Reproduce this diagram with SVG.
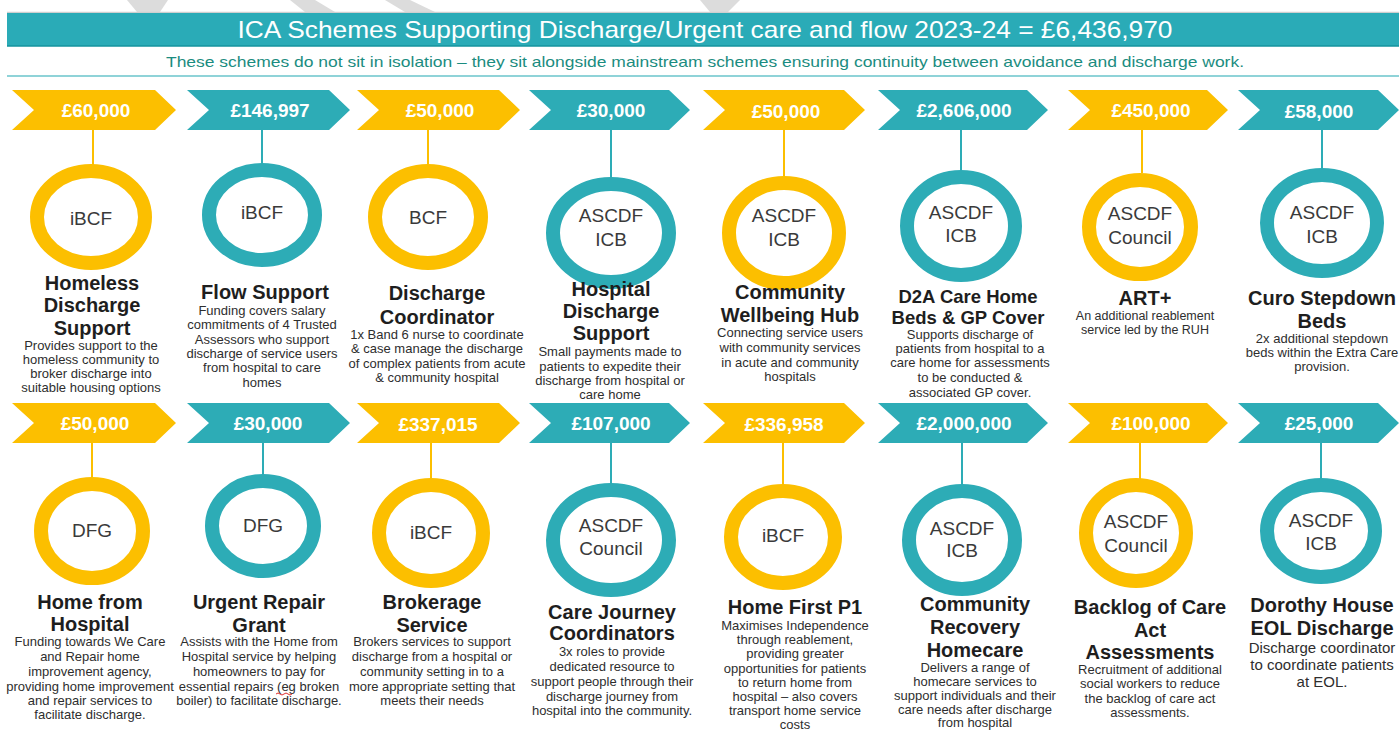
<svg xmlns="http://www.w3.org/2000/svg" width="1399" height="731" viewBox="0 0 1399 731">
<style>
.y{fill:#FCBF00}
.t{fill:#2DACB6}
.ry{fill:none;stroke:#FCBF00;stroke-width:14}
.rt{fill:none;stroke:#2DACB6;stroke-width:14}
.amt{font-family:"Liberation Sans",Arial,sans-serif;font-weight:bold;font-size:19px;fill:#fff;text-anchor:middle}
.src{font-family:"Liberation Sans",Arial,sans-serif;font-size:19px;fill:#3a3a3a;text-anchor:middle}
.ttl{font-family:"Liberation Sans",Arial,sans-serif;font-weight:bold;font-size:20px;fill:#1e1e1e;text-anchor:middle}
.dsc{font-family:"Liberation Sans",Arial,sans-serif;font-size:13px;fill:#2e2e2e;text-anchor:middle}
.cy{stroke:#FCBF00;stroke-width:2}
.ct{stroke:#2DACB6;stroke-width:2}
</style>
<rect width="1399" height="731" fill="#fff"/>
<g id="deco" fill="#dcdcdc">
<polygon points="127,0 168,0 160,12 137,12"/>
<polygon points="290,0 315,0 335,12 305,12"/>
<polygon points="385,0 410,0 435,12 405,12"/>
<polygon points="700,0 740,0 728,12 710,12"/>
</g>
<g id="header">
<line x1="7" y1="12.5" x2="1399" y2="12.5" stroke="#cfcfcf" stroke-width="1.5"/>
<rect x="7" y="13" width="1392" height="33" fill="#2AABB7"/>
<line x1="7" y1="46" x2="1399" y2="46" stroke="#15939e" stroke-width="1.5"/>
<text x="705" y="38" font-family="'Liberation Sans',Arial,sans-serif" font-size="24" fill="#fff" text-anchor="middle" textLength="935" lengthAdjust="spacingAndGlyphs">ICA Schemes Supporting Discharge/Urgent care and flow 2023-24 = £6,436,970</text>
<text x="705" y="67" font-family="'Liberation Sans',Arial,sans-serif" font-size="15" fill="#1b8c80" text-anchor="middle" textLength="1078" lengthAdjust="spacingAndGlyphs">These schemes do not sit in isolation – they sit alongside mainstream schemes ensuring continuity between avoidance and discharge work.</text>
<line x1="7" y1="76" x2="1399" y2="76" stroke="#8fd3d8" stroke-width="2"/>
</g>
<g id="connectors">
<line class="cy" x1="93" y1="130" x2="93" y2="165"/>
<line class="ct" x1="262" y1="130" x2="262" y2="164"/>
<line class="cy" x1="428" y1="130" x2="428" y2="165"/>
<line class="ct" x1="611" y1="130" x2="611" y2="177"/>
<line class="cy" x1="784" y1="130" x2="784" y2="177"/>
<line class="ct" x1="961" y1="130" x2="961" y2="171"/>
<line class="cy" x1="1142" y1="130" x2="1142" y2="173"/>
<line class="ct" x1="1322" y1="130" x2="1322" y2="169"/>
<line class="cy" x1="92" y1="443" x2="92" y2="478"/>
<line class="ct" x1="263" y1="443" x2="263" y2="475"/>
<line class="cy" x1="431" y1="443" x2="431" y2="479"/>
<line class="ct" x1="611" y1="443" x2="611" y2="484"/>
<line class="cy" x1="783" y1="443" x2="783" y2="485"/>
<line class="ct" x1="962" y1="443" x2="962" y2="485"/>
<line class="cy" x1="1140" y1="443" x2="1140" y2="479"/>
<line class="ct" x1="1321" y1="443" x2="1321" y2="479"/>
</g>
<g id="n1">
<polygon class="y" points="12,90 155,90 176,110 155,130 12,130 34,110"/>
<text class="amt" x="96" y="117">£60,000</text>
<ellipse class="ry" cx="91" cy="217" rx="54" ry="46"/>
<text class="src" x="91" y="225">iBCF</text>
<text class="ttl"><tspan x="92" y="290">Homeless</tspan><tspan x="92" y="312">Discharge</tspan><tspan x="92" y="335">Support</tspan></text>
<text class="dsc"><tspan x="91" y="350">Provides support to the</tspan><tspan x="91" y="364">homeless community to</tspan><tspan x="91" y="378">broker discharge into</tspan><tspan x="91" y="392">suitable housing options</tspan></text>
</g>
<g id="n2">
<polygon class="t" points="187,90 329,90 350,110 329,130 187,130 209,110"/>
<text class="amt" x="270" y="117">£146,997</text>
<ellipse class="rt" cx="262" cy="215" rx="53" ry="45"/>
<text class="src" x="262" y="219">iBCF</text>
<text class="ttl"><tspan x="265" y="299">Flow Support</tspan></text>
<text class="dsc"><tspan x="262" y="315">Funding covers salary</tspan><tspan x="262" y="329">commitments of 4 Trusted</tspan><tspan x="262" y="344">Assessors who support</tspan><tspan x="262" y="358">discharge of service users</tspan><tspan x="262" y="372">from hospital to care</tspan><tspan x="262" y="387">homes</tspan></text>
</g>
<g id="n3">
<polygon class="y" points="357,90 499,90 520,110 499,130 357,130 379,110"/>
<text class="amt" x="440" y="117">£50,000</text>
<ellipse class="ry" cx="428" cy="217" rx="53" ry="46"/>
<text class="src" x="428" y="224">BCF</text>
<text class="ttl"><tspan x="437" y="300">Discharge</tspan><tspan x="437" y="324">Coordinator</tspan></text>
<text class="dsc"><tspan x="437" y="339">1x Band 6 nurse to coordinate</tspan><tspan x="437" y="353">&amp; case manage the discharge</tspan><tspan x="437" y="368">of complex patients from acute</tspan><tspan x="437" y="382">&amp; community hospital</tspan></text>
</g>
<g id="n4">
<polygon class="t" points="529,90 669,90 690,110 669,130 529,130 551,110"/>
<text class="amt" x="611" y="117">£30,000</text>
<ellipse class="rt" cx="611" cy="233" rx="58" ry="49"/>
<text class="src"><tspan x="611" y="222">ASCDF</tspan><tspan x="611" y="246">ICB</tspan></text>
<text class="ttl"><tspan x="611" y="296">Hospital</tspan><tspan x="611" y="318">Discharge</tspan><tspan x="611" y="340">Support</tspan></text>
<text class="dsc"><tspan x="610" y="356">Small payments made to</tspan><tspan x="610" y="371">patients to expedite their</tspan><tspan x="610" y="385">discharge from hospital or</tspan><tspan x="610" y="399">care home</tspan></text>
</g>
<g id="n5">
<polygon class="y" points="703,90 844,90 865,110 844,130 703,130 725,110"/>
<text class="amt" x="786" y="118">£50,000</text>
<ellipse class="ry" cx="784" cy="233" rx="55" ry="50"/>
<text class="src"><tspan x="784" y="222">ASCDF</tspan><tspan x="784" y="246">ICB</tspan></text>
<text class="ttl"><tspan x="790" y="299">Community</tspan><tspan x="790" y="322">Wellbeing Hub</tspan></text>
<text class="dsc"><tspan x="790" y="337">Connecting service users</tspan><tspan x="790" y="352">with community services</tspan><tspan x="790" y="367">in acute and community</tspan><tspan x="790" y="381">hospitals</tspan></text>
</g>
<g id="n6">
<polygon class="t" points="878,90 1027,90 1048,110 1027,130 878,130 900,110"/>
<text class="amt" x="964" y="117">£2,606,000</text>
<ellipse class="rt" cx="961" cy="226" rx="54" ry="49"/>
<text class="src"><tspan x="961" y="219">ASCDF</tspan><tspan x="961" y="242">ICB</tspan></text>
<text class="ttl" style="font-size:18.5px"><tspan x="968" y="303">D2A Care Home</tspan><tspan x="968" y="324">Beds &amp; GP Cover</tspan></text>
<text class="dsc"><tspan x="970" y="339">Supports discharge of</tspan><tspan x="970" y="353">patients from hospital to a</tspan><tspan x="970" y="367">care home for assessments</tspan><tspan x="970" y="382">to be conducted &amp;</tspan><tspan x="970" y="397">associated GP cover.</tspan></text>
</g>
<g id="n7">
<polygon class="y" points="1068,90 1207,90 1228,110 1207,130 1068,130 1090,110"/>
<text class="amt" x="1151" y="117">£450,000</text>
<ellipse class="ry" cx="1140" cy="227" rx="51" ry="47"/>
<text class="src"><tspan x="1140" y="220">ASCDF</tspan><tspan x="1140" y="244">Council</tspan></text>
<text class="ttl"><tspan x="1145" y="305">ART+</tspan></text>
<text class="dsc" style="font-size:12.5px"><tspan x="1145" y="320">An additional reablement</tspan><tspan x="1145" y="334">service led by the RUH</tspan></text>
</g>
<g id="n8">
<polygon class="t" points="1238,90 1378,90 1399,110 1378,130 1238,130 1260,110"/>
<text class="amt" x="1319" y="118">£58,000</text>
<ellipse class="rt" cx="1322" cy="223" rx="55" ry="48"/>
<text class="src"><tspan x="1322" y="219">ASCDF</tspan><tspan x="1322" y="243">ICB</tspan></text>
<text class="ttl"><tspan x="1322" y="305">Curo Stepdown</tspan><tspan x="1322" y="328">Beds</tspan></text>
<text class="dsc"><tspan x="1322" y="343">2x additional stepdown</tspan><tspan x="1322" y="357">beds within the Extra Care</tspan><tspan x="1322" y="371">provision.</tspan></text>
</g>
<g id="m1">
<polygon class="y" points="12,403 155,403 176,423 155,443 12,443 34,423"/>
<text class="amt" x="95" y="430">£50,000</text>
<ellipse class="ry" cx="92" cy="531" rx="51" ry="47"/>
<text class="src" x="92" y="537">DFG</text>
<text class="ttl"><tspan x="90" y="609">Home from</tspan><tspan x="90" y="631">Hospital</tspan></text>
<text class="dsc"><tspan x="90" y="646">Funding towards We Care</tspan><tspan x="90" y="661">and Repair home</tspan><tspan x="90" y="676">improvement agency,</tspan><tspan x="90" y="691">providing home improvement</tspan><tspan x="90" y="705">and repair services to</tspan><tspan x="90" y="719">facilitate discharge.</tspan></text>
</g>
<g id="m2">
<polygon class="t" points="187,403 329,403 350,423 329,443 187,443 209,423"/>
<text class="amt" x="268" y="430">£30,000</text>
<ellipse class="rt" cx="263" cy="526" rx="51" ry="45"/>
<text class="src" x="263" y="532">DFG</text>
<text class="ttl"><tspan x="259" y="609">Urgent Repair</tspan><tspan x="259" y="632">Grant</tspan></text>
<text class="dsc"><tspan x="259" y="646">Assists with the Home from</tspan><tspan x="259" y="661">Hospital service by helping</tspan><tspan x="259" y="676">homeowners to pay for</tspan><tspan x="259" y="691">essential repairs (eg broken</tspan><tspan x="259" y="705">boiler) to facilitate discharge.</tspan></text>
<path d="M276,694 q2,-2 4,0 t4,0 t4,0 t4,0" fill="none" stroke="#e03030" stroke-width="1"/>
</g>
<g id="m3">
<polygon class="y" points="357,403 499,403 520,423 499,443 357,443 379,423"/>
<text class="amt" x="438" y="431">£337,015</text>
<ellipse class="ry" cx="431" cy="533" rx="52" ry="48"/>
<text class="src" x="431" y="539">iBCF</text>
<text class="ttl"><tspan x="432" y="609">Brokerage</tspan><tspan x="432" y="632">Service</tspan></text>
<text class="dsc"><tspan x="432" y="646">Brokers services to support</tspan><tspan x="432" y="661">discharge from a hospital or</tspan><tspan x="432" y="676">community setting in to a</tspan><tspan x="432" y="691">more appropriate setting that</tspan><tspan x="432" y="705">meets their needs</tspan></text>
</g>
<g id="m4">
<polygon class="t" points="529,403 669,403 690,423 669,443 529,443 551,423"/>
<text class="amt" x="611" y="430">£107,000</text>
<ellipse class="rt" cx="611" cy="540" rx="58" ry="50"/>
<text class="src"><tspan x="611" y="532">ASCDF</tspan><tspan x="611" y="555">Council</tspan></text>
<text class="ttl"><tspan x="612" y="619">Care Journey</tspan><tspan x="612" y="640">Coordinators</tspan></text>
<text class="dsc"><tspan x="612" y="656">3x roles to provide</tspan><tspan x="612" y="671">dedicated resource to</tspan><tspan x="612" y="686">support people through their</tspan><tspan x="612" y="701">discharge journey from</tspan><tspan x="612" y="715">hospital into the community.</tspan></text>
</g>
<g id="m5">
<polygon class="y" points="703,403 844,403 865,423 844,443 703,443 725,423"/>
<text class="amt" x="784" y="431">£336,958</text>
<ellipse class="ry" cx="783" cy="537" rx="52" ry="46"/>
<text class="src" x="783" y="542">iBCF</text>
<text class="ttl"><tspan x="795" y="614">Home First P1</tspan></text>
<text class="dsc"><tspan x="795" y="630">Maximises Independence</tspan><tspan x="795" y="644">through reablement,</tspan><tspan x="795" y="658">providing greater</tspan><tspan x="795" y="673">opportunities for patients</tspan><tspan x="795" y="687">to return home from</tspan><tspan x="795" y="701">hospital – also covers</tspan><tspan x="795" y="715">transport home service</tspan><tspan x="795" y="729">costs</tspan></text>
</g>
<g id="m6">
<polygon class="t" points="878,403 1027,403 1048,423 1027,443 878,443 900,423"/>
<text class="amt" x="964" y="430">£2,000,000</text>
<ellipse class="rt" cx="962" cy="540" rx="53" ry="49"/>
<text class="src"><tspan x="962" y="535">ASCDF</tspan><tspan x="962" y="557">ICB</tspan></text>
<text class="ttl"><tspan x="975" y="611">Community</tspan><tspan x="975" y="634">Recovery</tspan><tspan x="975" y="657">Homecare</tspan></text>
<text class="dsc"><tspan x="975" y="672">Delivers a range of</tspan><tspan x="975" y="686">homecare services to</tspan><tspan x="975" y="700">support individuals and their</tspan><tspan x="975" y="714">care needs after discharge</tspan><tspan x="975" y="727">from hospital</tspan></text>
</g>
<g id="m7">
<polygon class="y" points="1068,403 1207,403 1228,423 1207,443 1068,443 1090,423"/>
<text class="amt" x="1151" y="430">£100,000</text>
<ellipse class="ry" cx="1136" cy="533" rx="50" ry="48"/>
<text class="src"><tspan x="1136" y="528">ASCDF</tspan><tspan x="1136" y="552">Council</tspan></text>
<text class="ttl"><tspan x="1150" y="614">Backlog of Care</tspan><tspan x="1150" y="637">Act</tspan><tspan x="1150" y="659">Assessments</tspan></text>
<text class="dsc"><tspan x="1150" y="674">Recruitment of additional</tspan><tspan x="1150" y="688">social workers to reduce</tspan><tspan x="1150" y="703">the backlog of care act</tspan><tspan x="1150" y="717">assessments.</tspan></text>
</g>
<g id="m8">
<polygon class="t" points="1238,403 1378,403 1399,423 1378,443 1238,443 1260,423"/>
<text class="amt" x="1319" y="430">£25,000</text>
<ellipse class="rt" cx="1321" cy="531" rx="54" ry="46"/>
<text class="src"><tspan x="1321" y="527">ASCDF</tspan><tspan x="1321" y="550">ICB</tspan></text>
<text class="ttl"><tspan x="1322" y="612">Dorothy House</tspan><tspan x="1322" y="635">EOL Discharge</tspan></text>
<text class="dsc" style="font-size:15px"><tspan x="1322" y="653">Discharge coordinator</tspan><tspan x="1322" y="670">to coordinate patients</tspan><tspan x="1322" y="687">at EOL.</tspan></text>
</g>
</svg>
